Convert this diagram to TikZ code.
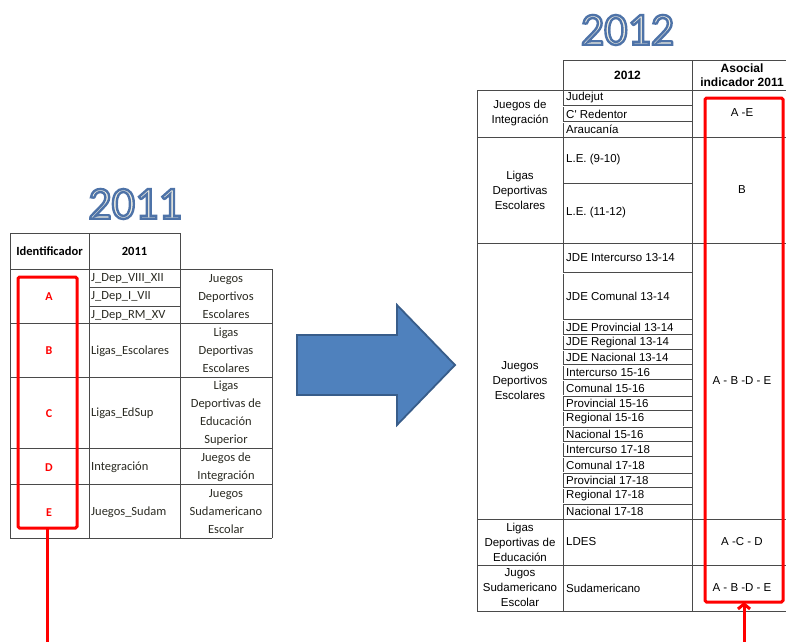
\documentclass[tikz,border=0pt]{standalone}
\usepackage{fontspec}
\setmainfont{Carlito}
\newfontfamily\arialf{Liberation Sans}
\usetikzlibrary{arrows.meta}
\definecolor{tline}{HTML}{4A4A4A}
\definecolor{redc}{HTML}{FF0000}
\definecolor{arrfill}{HTML}{4F81BD}
\definecolor{arrdraw}{HTML}{385D8A}
\definecolor{titleout}{HTML}{4E73A8}
\definecolor{titlefill}{HTML}{F3F0E2}
\definecolor{txt}{HTML}{2A2A22}
\newcommand\outlinetext[1]{%
  \special{pdf:code 2 Tr 2.4 w 0.306 0.451 0.659 RG}#1\special{pdf:code 0 Tr 1 w}}
\begin{document}
\begin{tikzpicture}[x=1pt,y=-1pt,
  tl/.style={draw=tline,line width=0.9pt},
  tdbl/.style={draw=tline,line width=0.6pt,double=white,double distance=0.9pt},
  titlet/.style={font=\fontsize{46}{46}\selectfont,inner sep=0pt,text=titlefill},
  ltxt/.style={font=\fontsize{12.5}{18}\selectfont,text=txt,inner sep=0pt,align=center},
  ltxtl/.style={ltxt,anchor=west,align=left},
  lhead/.style={ltxt,font=\bfseries\fontsize{12.5}{18}\selectfont,text=black},
  lid/.style={ltxt,font=\bfseries\fontsize{12}{18}\selectfont,text=redc},
  rtxt/.style={font=\arialf\fontsize{11.5}{15}\selectfont,text=black,inner sep=0pt,align=center},
  rtxtl/.style={rtxt,anchor=west,align=left},
  rhead/.style={rtxt,font=\arialf\bfseries\fontsize{12}{14}\selectfont},
  redbox/.style={draw=redc,line width=3pt,rounded corners=1.5pt,inner sep=0pt,outer sep=0pt},
  redline/.style={draw=redc,line width=3pt},
  bigarrow/.style={fill=arrfill,draw=arrdraw,line width=1.8pt,line join=miter},
]
\useasboundingbox (0,0) rectangle (786,641);

% titles
\node[titlet] (t2011) at (135,204) {\outlinetext{2011}};
\node[titlet] (t2012) at (627.5,30) {\outlinetext{2012}};

% ---------- left table ----------
\draw[tl] (10,233) -- (180,233);
\draw[tl] (10,233) -- (10,538);
\draw[tl] (89,233) -- (89,538);
\draw[tl] (180,233) -- (180,538);
\draw[tl] (272,269) -- (272,538);
\foreach \yy in {269,323,377,448,484,538} \draw[tl] (10,\yy) -- (272,\yy);
\foreach \yy in {287,306} \draw[tl] (89,\yy) -- (180,\yy);

\node[lhead] (hid) at (49.5,251) {Identificador};
\node[lhead] (h11) at (134.5,251) {2011};

\node[ltxtl] (la1) at (91,278) {J\_Dep\_VIII\_XII};
\node[ltxtl] (la2) at (91,296.5) {J\_Dep\_I\_VII};
\node[ltxtl] (la3) at (91,315) {J\_Dep\_RM\_XV};
\node[ltxtl] (lb) at (91,351) {Ligas\_Escolares};
\node[ltxtl] (lc) at (91,413) {Ligas\_EdSup};
\node[ltxtl] (ld) at (91,467) {Integración};
\node[ltxtl] (le) at (91,512) {Juegos\_Sudam};

\node[ltxt] (na) at (226,297) {Juegos\\Deportivos\\Escolares};
\node[ltxt] (nb) at (226,350) {Ligas\\Deportivas\\Escolares};
\node[ltxt] (nc) at (226,413) {Ligas\\Deportivas de\\Educación\\Superior};
\node[ltxt] (nd) at (226,467) {Juegos de\\Integración};
\node[ltxt] (ne) at (226,512) {Juegos\\Sudamericano\\Escolar};

\node[lid] (ia) at (49,297) {A};
\node[lid] (ib) at (49,351) {B};
\node[lid] (ic) at (49,414) {C};
\node[lid] (id) at (49,468) {D};
\node[lid] (ie) at (49,513) {E};

\node[redbox,minimum width=59pt,minimum height=251pt] (lbox) at (47.5,402.5) {};
\coordinate (lbot) at (47.5,645);
\draw[redline] (lbox.south) -- (lbot);

% ---------- big arrow ----------
\draw[bigarrow] (297,335) -- (397,335) -- (397,305) -- (455,365) -- (397,425) -- (397,395) -- (297,395) -- cycle;

% ---------- right table ----------
\draw[tl] (477,90) -- (477,611);
\draw[tl] (563,60) -- (563,611);
\draw[tl] (692,60) -- (692,611);
\draw[tl] (563,60) -- (800,60);
\foreach \yy in {90,137,243,519,565,611} \draw[tl] (477,\yy) -- (800,\yy);
\foreach \yy in {106,122,273,320,335,350,365,380.4,395.8,411.2,426.6,442,457.4,472.8,488.2,503.6} \draw[tdbl] (563,\yy) -- (692,\yy);
\draw[tl] (563,183) -- (692,183);

\node[rhead] (h12) at (627.5,75) {2012};
\node[rhead] (hasoc) at (742,75) {Asocial\\indicador 2011};

\node[rtxt] (g1) at (520,113) {Juegos de\\Integración};
\node[rtxt] (g2) at (520,190) {Ligas\\Deportivas\\Escolares};
\node[rtxt] (g3) at (520,381) {Juegos\\Deportivos\\Escolares};
\node[rtxt] (g4) at (520,542) {Ligas\\Deportivas de\\Educación};
\node[rtxt] (g5) at (520,588) {Jugos\\Sudamericano\\Escolar};

\node[rtxtl] (s1) at (566,98) {Judejut};
\node[rtxtl] (s2) at (566,114) {C' Redentor};
\node[rtxtl] (s3) at (566,129.5) {Araucanía};
\node[rtxtl] (s4) at (566,160) {L.E. (9-10)};
\node[rtxtl] (s5) at (566,213) {L.E. (11-12)};
\node[rtxtl] (s6) at (566,258) {JDE Intercurso 13-14};
\node[rtxtl] (s7) at (566,296.5) {JDE Comunal 13-14};
\node[rtxtl] (s8) at (566,327.5) {JDE Provincial 13-14};
\node[rtxtl] (s9) at (566,342.5) {JDE Regional 13-14};
\node[rtxtl] (s10) at (566,357.5) {JDE Nacional 13-14};
\node[rtxtl] (s11) at (566,372.7) {Intercurso 15-16};
\node[rtxtl] (s12) at (566,388.1) {Comunal 15-16};
\node[rtxtl] (s13) at (566,403.5) {Provincial 15-16};
\node[rtxtl] (s14) at (566,418.9) {Regional 15-16};
\node[rtxtl] (s15) at (566,434.3) {Nacional 15-16};
\node[rtxtl] (s16) at (566,449.7) {Intercurso 17-18};
\node[rtxtl] (s17) at (566,465.1) {Comunal 17-18};
\node[rtxtl] (s18) at (566,480.5) {Provincial 17-18};
\node[rtxtl] (s19) at (566,495.9) {Regional 17-18};
\node[rtxtl] (s20) at (566,511.3) {Nacional 17-18};
\node[rtxtl] (s21) at (566,542) {LDES};
\node[rtxtl] (s22) at (566,588) {Sudamericano};

\node[rtxt] (v1) at (742,113) {A -E};
\node[rtxt] (v2) at (742,190) {B};
\node[rtxt] (v3) at (742,381) {A - B -D - E};
\node[rtxt] (v4) at (742,542) {A -C - D};
\node[rtxt] (v5) at (742,588) {A - B -D - E};

\node[redbox,minimum width=78pt,minimum height=504pt] (rbox) at (744,350) {};
\coordinate (rbot) at (744,645);
\draw[redline,-{Straight Barb[length=5pt,width=12pt]}] (rbot) -- (rbox.south);
\end{tikzpicture}
\end{document}
